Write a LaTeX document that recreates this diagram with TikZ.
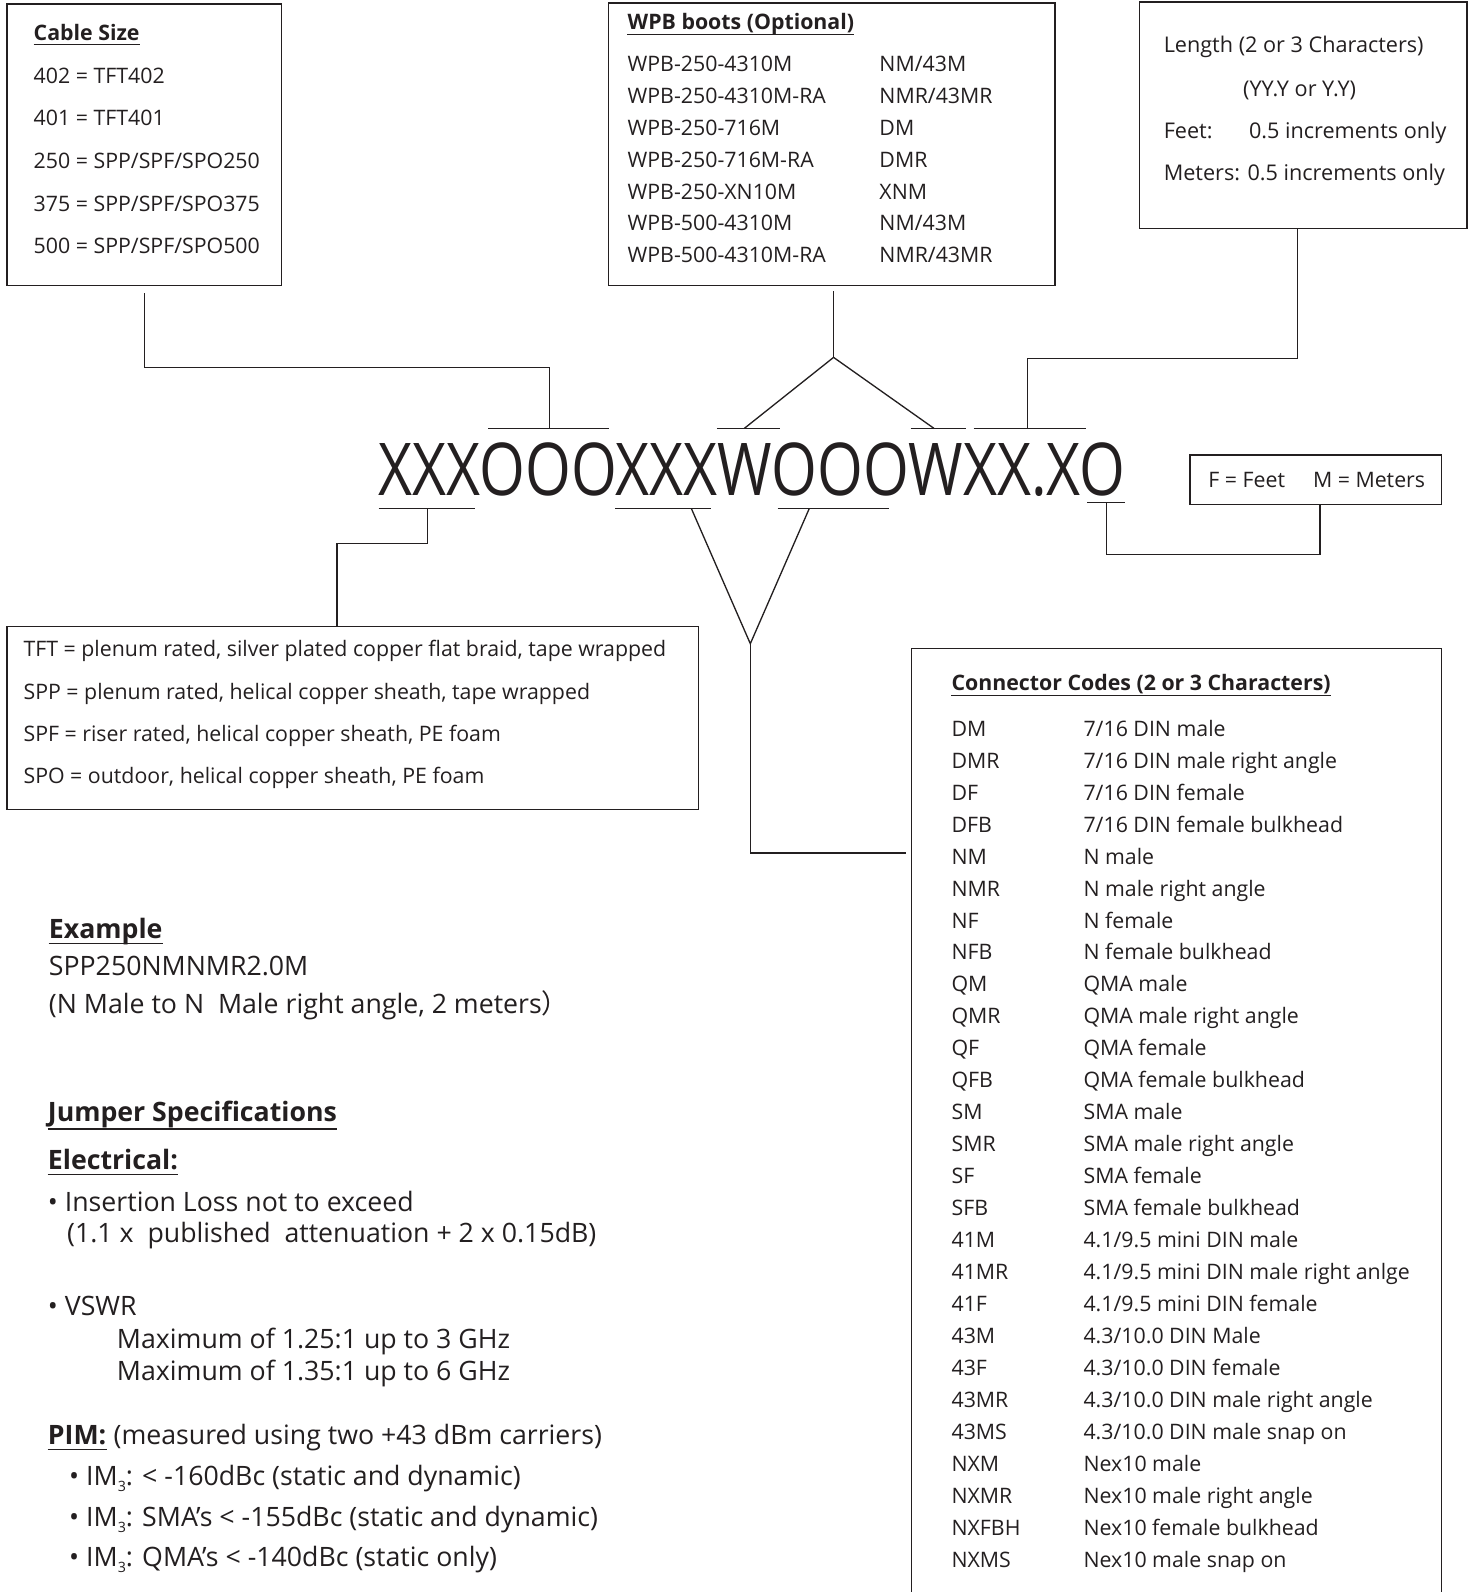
\documentclass[tikz,border=0pt]{standalone}
\usepackage{fontspec}
\setmainfont{Open Sans}
\newfontfamily\cjk{Noto Sans CJK SC}
\usepackage{graphicx}
\definecolor{ink}{RGB}{35,31,32}
\newcommand\boxfont{\fontsize{21}{25}\selectfont}
\newcommand\lenfont{\fontsize{21.3}{25}\selectfont}
\newcommand\bigfont{\fontsize{26.3}{31}\selectfont}
\newcommand\subthree{\raisebox{-6pt}{\fontsize{14}{14}\selectfont 3}}
\tikzset{
  frame/.style={draw=ink, line width=1.3pt, inner sep=0pt, rectangle},
  conn/.style={draw=ink, line width=1.3pt},
  txt/.style={anchor=base west, inner sep=0pt, text=ink, font=\boxfont},
  btxt/.style={anchor=base west, inner sep=0pt, text=ink, font=\bigfont},
  uline/.style={draw=ink, line width=1.2pt},
}
\begin{document}
\begin{tikzpicture}[x=1pt,y=-1pt]
\useasboundingbox[fill=white] (0,0) rectangle (1454,1568);
% ---------- boxes
\node[frame, minimum width=270pt, minimum height=277pt] (cable) at (142,142.5) {};
\node[frame, minimum width=440pt, minimum height=278pt] (wpb) at (819,142) {};
\node[frame, minimum width=323pt, minimum height=223pt] (len) at (1283.5,113.5) {};
\node[frame, minimum width=248pt, minimum height=49pt] (fm) at (1296,472.5) {};
\node[frame, minimum width=681pt, minimum height=180pt] (tft) at (347.5,707) {};
\node[frame, minimum width=522pt, minimum height=1001pt] (codes) at (1159,1139.5) {};
% ---------- cable size text
\node[txt, font=\boxfont\bfseries] (cst) at (33,40) {Cable Size};
\draw[uline] ([yshift=-4pt]cst.base west) -- ([yshift=-4pt]cst.base east);
\node[txt] (c1) at (33,82) {402 = TFT402};
\node[txt] (c2) at (33,124) {401 = TFT401};
\node[txt] (c3) at (33,166) {250 = SPP/SPF/SPO250};
\node[txt] (c4) at (33,208) {375 = SPP/SPF/SPO375};
\node[txt] (c5) at (33,250) {500 = SPP/SPF/SPO500};
% ---------- WPB text
\node[txt, font=\boxfont\bfseries] (wt) at (618,29) {WPB boots (Optional)};
\draw[uline] ([yshift=-5pt]wt.base west) -- ([yshift=-5pt]wt.base east);
\node[txt] (w1a) at (618,70) {WPB-250-4310M};
\node[txt] (w1b) at (866,70) {NM/43M};
\node[txt] (w2a) at (618,101.5) {WPB-250-4310M-RA};
\node[txt] (w2b) at (866,101.5) {NMR/43MR};
\node[txt] (w3a) at (618,133) {WPB-250-716M};
\node[txt] (w3b) at (866,133) {DM};
\node[txt] (w4a) at (618,164.5) {WPB-250-716M-RA};
\node[txt] (w4b) at (866,164.5) {DMR};
\node[txt] (w5a) at (618,196) {WPB-250-XN10M};
\node[txt] (w5b) at (866,196) {XNM};
\node[txt] (w6a) at (618,227.5) {WPB-500-4310M};
\node[txt] (w6b) at (866,227.5) {NM/43M};
\node[txt] (w7a) at (618,259) {WPB-500-4310M-RA};
\node[txt] (w7b) at (866,259) {NMR/43MR};
% ---------- Length text
\node[txt, font=\lenfont] (l1) at (1146,52) {Length (2 or 3 Characters)};
\node[txt, font=\lenfont, anchor=base] (l2) at (1280,95) {(YY.Y or Y.Y)};
\node[txt, font=\lenfont] (l3a) at (1146,136) {Feet:};
\node[txt, font=\lenfont] (l3b) at (1230,136) {0.5 increments only};
\node[txt, font=\lenfont] (l4) at (1146,178) {Meters: 0.5 increments only};
% ---------- F/M
\node[txt] (fm1) at (1190,480) {F = Feet};
\node[txt] (fm2) at (1293,480) {M = Meters};
% ---------- TFT text
\node[txt] (t1) at (23,647) {TFT = plenum rated, silver plated copper flat braid, tape wrapped};
\node[txt] (t2) at (23,689) {SPP = plenum rated, helical copper sheath, tape wrapped};
\node[txt] (t3) at (23,730) {SPF = riser rated, helical copper sheath, PE foam};
\node[txt] (t4) at (23,772) {SPO = outdoor, helical copper sheath, PE foam};
% ---------- Connector codes
\node[txt, font=\boxfont\bfseries] (cct) at (937,680) {Connector Codes (2 or 3 Characters)};
\draw[uline] ([yshift=-5pt]cct.base west) -- ([yshift=-5pt]cct.base east);
\foreach \k/\a/\b in {0/DM/7\slash16 DIN male,1/DMR/7\slash16 DIN male right angle,2/DF/7\slash16 DIN female,3/DFB/7\slash16 DIN female bulkhead,4/NM/N male,5/NMR/N male right angle,6/NF/N female,7/NFB/N female bulkhead,8/QM/QMA male,9/QMR/QMA male right angle,10/QF/QMA female,11/QFB/QMA female bulkhead,12/SM/SMA male,13/SMR/SMA male right angle,14/SF/SMA female,15/SFB/SMA female bulkhead,16/41M/4.1\slash9.5 mini DIN male,17/41MR/4.1\slash9.5 mini DIN male right anlge,18/41F/4.1\slash9.5 mini DIN female,19/43M/4.3\slash10.0 DIN Male,20/43F/4.3\slash10.0 DIN female,21/43MR/4.3\slash10.0 DIN male right angle,22/43MS/4.3\slash10.0 DIN male snap on,23/NXM/Nex10 male,24/NXMR/Nex10 male right angle,25/NXFBH/Nex10 female bulkhead,26/NXMS/Nex10 male snap on}{
  \node[txt] (ca\k) at (937,725+31.5*\k) {\a};
  \node[txt] (cb\k) at (1067,725+31.5*\k) {\b};
}
% ---------- code string
\node[anchor=base west, inner sep=0pt, text=ink] (code) at (373,488)
  {\resizebox{735pt}{52pt}{XXXOOOXXXWOOOWXX.XO}};
% ---------- bars
\coordinate (ta1) at (481,422); \coordinate (ta2) at (600,422); \coordinate (tam) at (541,422);
\coordinate (tb1) at (706,422); \coordinate (tb2) at (768,422); \coordinate (tbm) at (733,422);
\coordinate (tc1) at (897,422); \coordinate (tc2) at (951,422); \coordinate (tcm) at (920,422);
\coordinate (td1) at (959,422); \coordinate (td2) at (1070,422); \coordinate (tdm) at (1012,422);
\coordinate (ba1) at (373,501); \coordinate (ba2) at (468,501); \coordinate (bam) at (421,501);
\coordinate (bb1) at (606,501); \coordinate (bb2) at (700,501); \coordinate (bbm) at (681,501);
\coordinate (bc1) at (766,501); \coordinate (bc2) at (876,501); \coordinate (bcm) at (797,501);
\coordinate (bd1) at (1071,495); \coordinate (bd2) at (1108,495); \coordinate (bdm) at (1090,495);
\foreach \p in {ta,tb,tc,td,ba,bb,bc,bd} \draw[conn] (\p1) -- (\p2);
\coordinate (wj) at (821,352);
\coordinate (vj) at (739,634);
% ---------- connectors
\draw[conn] ([yshift=-7pt]cable.south) |- (541,362) -- (tam);
\draw[conn] ([xshift=2pt,yshift=-5pt]wpb.south) -- (wj);
\draw[conn] (tbm) -- (wj) -- (tcm);
\draw[conn] (len.south -| 1278,0) -- (1278,353) -| (tdm);
\draw[conn] (bam) |- (332,535) -- (tft.north -| 332,0);
\draw[conn] (bbm) -- (vj) -- (bcm);
\draw[conn] (vj) |- ([xshift=-5pt]codes.west |- 0,840);
\draw[conn] (bdm) |- (1300,546) -- (fm.south -| 1300,0);
% ---------- lower left
\node[btxt, font=\bigfont\bfseries] (ex) at (48,924) {Example};
\draw[uline] ([yshift=-5pt]ex.base west) -- ([yshift=-5pt]ex.base east);
\node[btxt] (ex1) at (48,961) {SPP250NMNMR2.0M};
\node[btxt] (ex2) at (48,998) {(N Male to N\ \ Male right angle, 2 meters{\cjk ）}};
\node[btxt, font=\bigfont\bfseries] (js) at (47,1105) {Jumper Specifications};
\draw[uline] ([yshift=-7pt]js.base west) -- ([yshift=-7pt]js.base east);
\node[btxt, font=\bigfont\bfseries] (el) at (47,1152) {Electrical:};
\draw[uline] ([yshift=-5pt]el.base west) -- ([yshift=-5pt]el.base east);
\node[btxt] (il1) at (47,1193) {• Insertion Loss not to exceed};
\node[btxt] (il2) at (66,1224) {(1.1 x\ \ published\ \ attenuation + 2 x 0.15dB)};
\node[btxt] (vs) at (47,1296) {• VSWR};
\node[btxt] (vs1) at (115,1328) {Maximum of 1.25:1 up to 3 GHz};
\node[btxt] (vs2) at (115,1360) {Maximum of 1.35:1 up to 6 GHz};
\node[btxt, font=\bigfont\bfseries] (pim) at (47,1423) {PIM:};
\draw[uline] ([yshift=-5pt]pim.base west) -- ([yshift=-5pt]pim.base east);
\node[btxt] (pimr) at (pim.base east) {\ (measured using two +43 dBm carriers)};
\node[btxt] (im1) at (68,1463) {• IM\subthree: < -160dBc (static and dynamic)};
\node[btxt] (im2) at (68,1503) {• IM\subthree: SMA’s < -155dBc (static and dynamic)};
\node[btxt] (im3) at (68,1543) {• IM\subthree: QMA’s < -140dBc (static only)};
\end{tikzpicture}
\end{document}
